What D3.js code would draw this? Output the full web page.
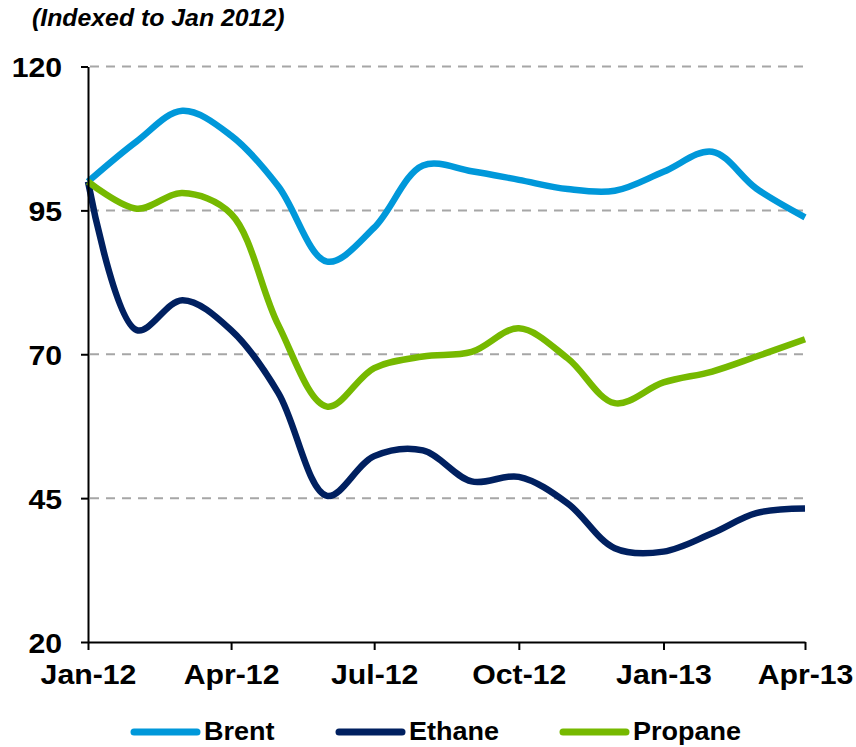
<!DOCTYPE html>
<html>
<head>
<meta charset="utf-8">
<script src="https://cdn.jsdelivr.net/npm/d3@7"></script>
<style>
  body { margin: 0; background: #fff; }
  text { font-family: "Liberation Sans", Arial, sans-serif; font-weight: bold; fill: #000; }
</style>
</head>
<body>
<div id="chart"></div>
<script>
// Monthly index values (Jan 2012 = 100)
const months = ["2012-01", "2012-02", "2012-03", "2012-04", "2012-05", "2012-06", "2012-07", "2012-08",
                "2012-09", "2012-10", "2012-11", "2012-12", "2013-01", "2013-02", "2013-03", "2013-04"];
const brent   = [100, 107, 112.3, 108, 99.2, 86.1, 92, 102.8, 101.8, 100.3, 98.7, 98.4, 101.7, 105.2, 98.8, 93.8];
const ethane  = [100, 74.2, 79.4, 74.2, 63.3, 45.4, 52.3, 53.3, 47.9, 48.7, 44.1, 36.3, 35.7, 38.9, 42.4, 43.2];
const propane = [100, 95.3, 98, 94.4, 75.1, 60.9, 67.6, 69.6, 70.4, 74.5, 69.3, 61.5, 65.1, 67, 69.6, 72.6];
const yTicks = [20, 45, 70, 95, 120];

const seriesNames  = ["Brent", "Ethane", "Propane"];
const seriesValues = [brent, ethane, propane];
const colors = ["#0098DA", "#002060", "#76B900"];

const parseMonth = d3.timeParse("%Y-%m");
const dates = months.map(parseMonth);

const svg = d3.select("#chart").append("svg")
    .attr("width", 856)
    .attr("height", 747);

// Scales
const x = d3.scaleTime()
    .domain([dates[0], dates[dates.length - 1]])
    .range([88, 805]);

const y = d3.scaleLinear()
    .domain([20, 120])
    .range([642, 66.5]);

// Title
svg.append("text")
    .attr("transform", "translate(32,26) scale(1.08,1)")
    .style("font-size", "23px")
    .style("font-style", "italic")
    .text("(Indexed to Jan 2012)");

// Dashed gridlines
svg.append("g")
    .selectAll("line")
    .data(yTicks.filter(t => t > 20))
    .enter()
    .append("line")
    .attr("x1", x.range()[0] + 2)
    .attr("x2", x.range()[1])
    .attr("y1", d => y(d))
    .attr("y2", d => y(d))
    .attr("stroke", "#A6A6A6")
    .attr("stroke-width", 2)
    .attr("stroke-dasharray", "9,7");

// Lines
const line = d3.line()
    .x((d, i) => x(dates[i]))
    .y(d => y(d))
    .curve(d3.curveCatmullRom.alpha(0.5));

seriesValues.forEach((vals, i) => {
    svg.append("path")
        .datum(vals)
        .attr("d", line)
        .attr("fill", "none")
        .attr("stroke", colors[i])
        .attr("stroke-width", 6.5)
        .attr("stroke-linejoin", "round");
});

// Axes
const xAxis = svg.append("g")
    .attr("transform", "translate(0,642)")
    .call(d3.axisBottom(x)
        .tickValues(dates.filter((d, i) => i % 3 === 0))
        .tickFormat(d3.timeFormat("%b-%y"))
        .tickSize(8)
        .tickSizeOuter(0)
        .tickPadding(14));

const yAxis = svg.append("g")
    .attr("transform", "translate(88,0)")
    .call(d3.axisLeft(y)
        .tickValues(yTicks)
        .tickSize(7)
        .tickSizeOuter(0)
        .tickPadding(17));

[xAxis, yAxis].forEach(g => {
    g.select(".domain").attr("stroke", "#000").attr("stroke-width", 2);
    g.selectAll(".tick line").attr("stroke", "#000").attr("stroke-width", 2);
    g.selectAll(".tick text")
        .style("font-size", "28px")
        .attr("fill", "#000")
        .attr("transform", "scale(1.08,1)");
});
yAxis.selectAll(".tick text").attr("dy", "0.36em");

// Legend
const legendX = [134, 339, 563];
const legend = svg.append("g");
seriesNames.forEach((name, i) => {
    legend.append("line")
        .attr("x1", legendX[i])
        .attr("x2", legendX[i] + 63)
        .attr("y1", 732)
        .attr("y2", 732)
        .attr("stroke", colors[i])
        .attr("stroke-width", 7)
        .attr("stroke-linecap", "round");
    legend.append("text")
        .attr("transform", `translate(${legendX[i] + 70},740) scale(1.08,1)`)
        .style("font-size", "25px")
        .text(name);
});
</script>
</body>
</html>
